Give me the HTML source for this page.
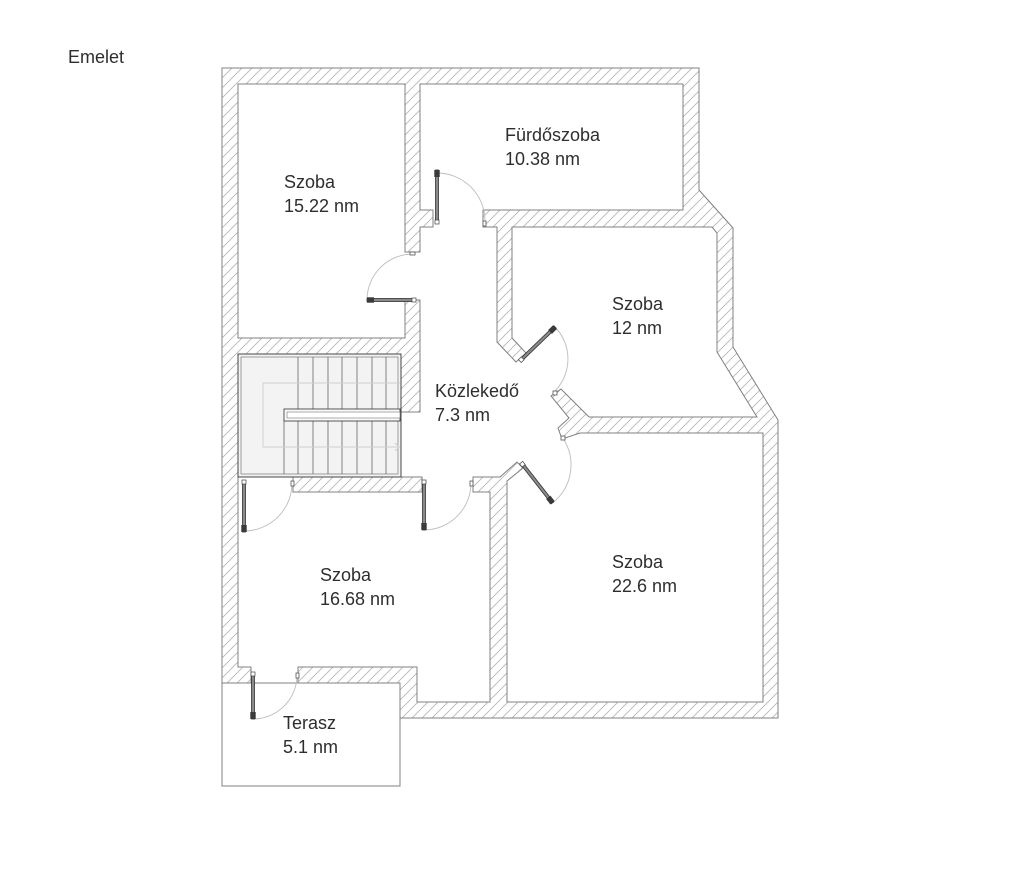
<!DOCTYPE html>
<html>
<head>
<meta charset="utf-8">
<style>
  html,body{margin:0;padding:0;background:#fff;}
  body{width:1024px;height:876px;overflow:hidden;}
  svg{display:block;}
  text{font-family:"Liberation Sans", Arial, sans-serif;font-size:18px;fill:#2e2e2e;}
</style>
</head>
<body>
<svg width="1024" height="876" viewBox="0 0 1024 876" xmlns="http://www.w3.org/2000/svg">
  <defs>
    <pattern id="hatch" patternUnits="userSpaceOnUse" width="10" height="10">
      <path d="M0,10 L10,0 M-2,2 L2,-2 M8,12 L12,8" stroke="#b4b4b4" stroke-width="0.8" fill="none"/>
    </pattern>
  </defs>
  <rect width="1024" height="876" fill="#fff"/>

  <text x="68" y="63">Emelet</text>

  <!-- outer walls (hatched) -->
  <polygon points="222,68 699,68 699,190 733,228 733,347 778,420 778,718 400,718 400,683 222,683"
           fill="url(#hatch)" stroke="#808080" stroke-width="1"/>

  <!-- free interior space -->
  <polygon points="238,84 405,84 405,252 420,252 420,227 433,227 433,210 420,210 420,84 683,84 683,210 483,210 483,227 497,227 497,342 516,362 526,353 512,338 512,227 712,227 717,233 717,352 757,417 589,417 561,389 551,396 569,418 558,428 562,439 580,433 763,433 763,702 507,702 507,481 523,468 517,462 500,477 473,477 473,492 490,492 490,702 417,702 417,667 298,667 298,683 251,683 251,667 238,667 238,477 293,477 293,492 422,492 422,477 401,477 401,412 420,412 420,300 405,300 405,338 238,338"
           fill="#fff" stroke="#808080" stroke-width="1"/>

  <!-- terrace -->
  <rect x="222" y="683" width="178" height="103" fill="#fff" stroke="#808080" stroke-width="1"/>

  <!-- stairs -->
  <rect x="238" y="354" width="163" height="123" fill="#f3f3f3" stroke="#444" stroke-width="1"/>
  <rect x="241" y="357" width="157" height="117" fill="none" stroke="#777" stroke-width="0.7"/>
  <g stroke="#666" stroke-width="0.8">
    <line x1="298" y1="357" x2="298" y2="409"/>
    <line x1="313" y1="357" x2="313" y2="409"/>
    <line x1="328" y1="357" x2="328" y2="409"/>
    <line x1="342" y1="357" x2="342" y2="409"/>
    <line x1="357" y1="357" x2="357" y2="409"/>
    <line x1="372" y1="357" x2="372" y2="409"/>
    <line x1="386" y1="357" x2="386" y2="409"/>
    <line x1="284" y1="421" x2="284" y2="474"/>
    <line x1="298" y1="421" x2="298" y2="474"/>
    <line x1="313" y1="421" x2="313" y2="474"/>
    <line x1="328" y1="421" x2="328" y2="474"/>
    <line x1="342" y1="421" x2="342" y2="474"/>
    <line x1="357" y1="421" x2="357" y2="474"/>
    <line x1="372" y1="421" x2="372" y2="474"/>
    <line x1="386" y1="421" x2="386" y2="474"/>
  </g>
  <rect x="284" y="409" width="116" height="12" fill="#fafafa" stroke="#444" stroke-width="0.9"/>
  <rect x="287" y="412" width="113" height="6" fill="#fff" stroke="#777" stroke-width="0.6"/>
  <polyline points="400,383 263,383 263,447 400,447" fill="none" stroke="#cfcfcf" stroke-width="0.9"/>
  <polyline points="395,443 399,447 395,451" fill="none" stroke="#cfcfcf" stroke-width="0.9"/>

  <!-- door arcs -->
  <g fill="none" stroke="#bdbdbd" stroke-width="0.9">
    <path d="M437,173 A48,48 0 0 1 485,221"/>
    <path d="M367,300 A46,46 0 0 1 413,254"/>
    <path d="M555,327 A46,46 0 0 1 555,391"/>
    <path d="M552.6,502.8 A48,48 0 0 0 563.3,438.9"/>
    <path d="M244,531 A48,48 0 0 0 292,483"/>
    <path d="M424,530 A47,47 0 0 0 471,483"/>
    <path d="M253,719 A44,44 0 0 0 297,675"/>
  </g>

  <!-- strike marks -->
  <g fill="#fff" stroke="#555" stroke-width="0.8">
    <rect x="483" y="221" width="3" height="5"/>
    <rect x="410" y="252" width="5" height="3"/>
    <rect x="553" y="391" width="4" height="4"/>
    <rect x="561" y="436" width="4" height="4"/>
    <rect x="291" y="481" width="3" height="5"/>
    <rect x="470" y="481" width="3" height="5"/>
    <rect x="296" y="673" width="3" height="5"/>
  </g>

  <!-- door leaves -->
  <g>
    <g transform="translate(437,221) rotate(-90)">
      <rect x="0" y="-1.5" width="51" height="3" fill="#8a8a8a" stroke="#333" stroke-width="0.8"/>
      <rect x="44" y="-2.7" width="7" height="5.4" fill="#3a3a3a"/>
      <rect x="-3" y="-2" width="4" height="4" fill="#fff" stroke="#444" stroke-width="0.7"/>
    </g>
    <g transform="translate(413,300) rotate(180)">
      <rect x="0" y="-1.5" width="46" height="3" fill="#8a8a8a" stroke="#333" stroke-width="0.8"/>
      <rect x="39" y="-2.7" width="7" height="5.4" fill="#3a3a3a"/>
      <rect x="-3" y="-2" width="4" height="4" fill="#fff" stroke="#444" stroke-width="0.7"/>
    </g>
    <g transform="translate(522,359) rotate(-44)">
      <rect x="0" y="-1.5" width="46" height="3" fill="#8a8a8a" stroke="#333" stroke-width="0.8"/>
      <rect x="39" y="-2.7" width="7" height="5.4" fill="#3a3a3a"/>
      <rect x="-3" y="-2" width="4" height="4" fill="#fff" stroke="#444" stroke-width="0.7"/>
    </g>
    <g transform="translate(523,465) rotate(52)">
      <rect x="0" y="-1.5" width="48" height="3" fill="#8a8a8a" stroke="#333" stroke-width="0.8"/>
      <rect x="41" y="-2.7" width="7" height="5.4" fill="#3a3a3a"/>
      <rect x="-3" y="-2" width="4" height="4" fill="#fff" stroke="#444" stroke-width="0.7"/>
    </g>
    <g transform="translate(244,483) rotate(90)">
      <rect x="0" y="-1.5" width="49" height="3" fill="#8a8a8a" stroke="#333" stroke-width="0.8"/>
      <rect x="42" y="-2.7" width="7" height="5.4" fill="#3a3a3a"/>
      <rect x="-3" y="-2" width="4" height="4" fill="#fff" stroke="#444" stroke-width="0.7"/>
    </g>
    <g transform="translate(424,483) rotate(90)">
      <rect x="0" y="-1.5" width="47" height="3" fill="#8a8a8a" stroke="#333" stroke-width="0.8"/>
      <rect x="40" y="-2.7" width="7" height="5.4" fill="#3a3a3a"/>
      <rect x="-3" y="-2" width="4" height="4" fill="#fff" stroke="#444" stroke-width="0.7"/>
    </g>
    <g transform="translate(253,675) rotate(90)">
      <rect x="0" y="-1.5" width="44" height="3" fill="#8a8a8a" stroke="#333" stroke-width="0.8"/>
      <rect x="37" y="-2.7" width="7" height="5.4" fill="#3a3a3a"/>
      <rect x="-3" y="-2" width="4" height="4" fill="#fff" stroke="#444" stroke-width="0.7"/>
    </g>
  </g>

  <!-- labels -->
  <text x="284" y="188">Szoba</text>
  <text x="284" y="212">15.22 nm</text>

  <text x="505" y="141">Fürdőszoba</text>
  <text x="505" y="165">10.38 nm</text>

  <text x="612" y="310">Szoba</text>
  <text x="612" y="334">12 nm</text>

  <text x="435" y="397">Közlekedő</text>
  <text x="435" y="421">7.3 nm</text>

  <text x="320" y="581">Szoba</text>
  <text x="320" y="605">16.68 nm</text>

  <text x="612" y="568">Szoba</text>
  <text x="612" y="592">22.6 nm</text>

  <text x="283" y="729">Terasz</text>
  <text x="283" y="753">5.1 nm</text>
</svg>
</body>
</html>
